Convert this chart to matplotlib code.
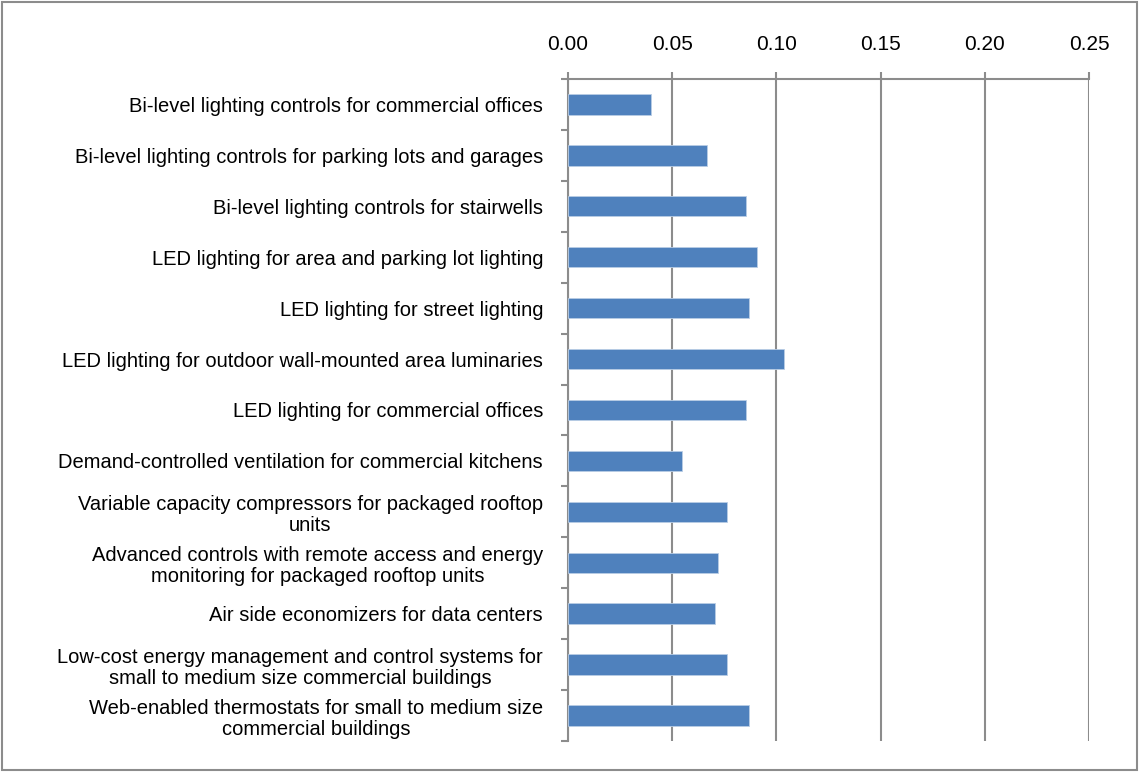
import matplotlib.pyplot as plt
from matplotlib.patches import Rectangle
from matplotlib.ticker import FixedLocator

plt.rcParams['font.family'] = ['Liberation Sans', 'DejaVu Sans']

labels = [
    "Bi-level lighting controls for commercial offices",
    "Bi-level lighting controls for parking lots and garages",
    "Bi-level lighting controls for stairwells",
    "LED lighting for area and parking lot lighting",
    "LED lighting for street lighting",
    "LED lighting for outdoor wall-mounted area luminaries",
    "LED lighting for commercial offices",
    "Demand-controlled ventilation for commercial kitchens",
    "Variable capacity compressors for packaged rooftop\nunits",
    "Advanced controls with remote access and energy\nmonitoring for packaged rooftop units",
    "Air side economizers for data centers",
    "Low-cost energy management and control systems for\nsmall to medium size commercial buildings",
    "Web-enabled thermostats for small to medium size\ncommercial buildings",
]
values = [0.040, 0.0667, 0.0854, 0.0907, 0.0869, 0.1038, 0.0853,
          0.0547, 0.0763, 0.0720, 0.0705, 0.0763, 0.0869]
xticks = [0.00, 0.05, 0.10, 0.15, 0.20, 0.25]

fig = plt.figure(figsize=(11.39, 7.72), dpi=100)
ax = fig.add_axes([0.4987, 0.0402, 0.4574, 0.8575])

ypos = list(range(len(labels)))
ax.barh(ypos, values, height=0.4, color='#4f81bd', edgecolor='#b9cde5',
        linewidth=0.6, zorder=3)

ax.set_xlim(0, 0.25)
ax.set_ylim(len(labels) - 0.5, -0.5)
ax.set_xticks(xticks)
ax.set_xticklabels(['%.2f' % t for t in xticks])
ax.xaxis.tick_top()
ax.grid(axis='x', color='#8c8c8c', linewidth=1.5, zorder=1)

ax.set_yticks(ypos)
ax.set_yticklabels(labels, multialignment='center', linespacing=1.15)
ax.yaxis.set_minor_locator(FixedLocator([i - 0.5 for i in range(len(labels) + 1)]))
ax.tick_params(axis='y', which='major', length=0, pad=18, labelsize=14.5)
ax.tick_params(axis='y', which='minor', length=5, width=1.5, color='#8c8c8c')
ax.tick_params(axis='x', which='major', length=5, width=1.5, color='#8c8c8c',
               pad=13, labelsize=15)

for s in ['right', 'bottom']:
    ax.spines[s].set_visible(False)
for s in ['top', 'left']:
    ax.spines[s].set_color('#8c8c8c')
    ax.spines[s].set_linewidth(1.5)

fig.patches.append(Rectangle((0.002, 0.003), 0.996, 0.994, transform=fig.transFigure,
                             fill=False, edgecolor='#8c8c8c', linewidth=1.5))

fig.savefig('out.png', dpi=100)
